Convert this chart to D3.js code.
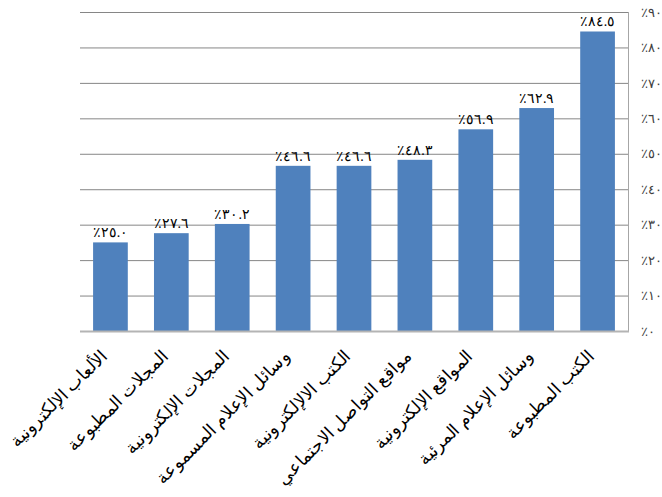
<!DOCTYPE html>
<html><head><meta charset="utf-8">
<script src="https://cdn.jsdelivr.net/npm/d3@7"></script>
<style>html,body{margin:0;padding:0;background:#fff;}svg{display:block;}</style>
</head><body>
<svg id="c" width="662" height="497"></svg>
<script>
const categories = ["الألعاب الإلكترونية","المجلات المطبوعة","المجلات الإلكترونية","وسائل الإعلام المسموعة","الكتب الالإلكترونية","مواقع التواصل الاجتماعي","المواقع الإلكترونية","وسائل الإعلام المرئية","الكتب المطبوعة"];
const values = [25.0, 27.6, 30.2, 46.6, 46.6, 48.3, 56.9, 62.9, 84.5];
const tickValues = [0,10,20,30,40,50,60,70,80,90];

const ar = s => String(s).replace(/[0-9]/g, d => "٠١٢٣٤٥٦٧٨٩"[+d]);
const svg = d3.select("#c");
const m = {l:80, r:628, t:12, b:331};
const x = d3.scaleBand().domain(categories).range([m.l, m.r]).paddingInner(0.43).paddingOuter(0.215);
const y = d3.scaleLinear().domain([0,90]).range([m.b, m.t]);
const font = "'Liberation Serif','DejaVu Serif','Times New Roman',serif";

// gridlines
svg.append("g").selectAll("line").data(tickValues.filter(t=>t>0)).join("line")
  .attr("x1", m.l).attr("x2", m.r).attr("y1", d=>y(d)+0.5).attr("y2", d=>y(d)+0.5)
  .attr("stroke", "#868686").attr("stroke-width", 1);
// right border
svg.append("line").attr("x1", m.r+0.5).attr("x2", m.r+0.5).attr("y1", m.t).attr("y2", m.b)
  .attr("stroke", "#a6a6a6").attr("stroke-width", 1);

// bars
svg.append("g").selectAll("rect").data(values).join("rect")
  .attr("x", (d,i)=>x(categories[i])).attr("width", x.bandwidth())
  .attr("y", d=>y(d)).attr("height", d=>y(0)-y(d))
  .attr("fill", "#4f81bd");

// baseline axis
svg.append("line").attr("x1", m.l).attr("x2", m.r+1).attr("y1", m.b+0.5).attr("y2", m.b+0.5)
  .attr("stroke", "#b4b4b4").attr("stroke-width", 2);

// value labels
svg.append("g").selectAll("text").data(values).join("text")
  .attr("x", (d,i)=>x(categories[i]) + x.bandwidth()/2)
  .attr("y", d=>y(d)-5)
  .attr("text-anchor", "middle")
  .attr("font-family", font).attr("font-size", 14).attr("fill", "#000")
  .style("direction","ltr").style("unicode-bidi","bidi-override")
  .text(d=>"٪" + ar(d.toFixed(1)));

// right axis labels
const yAxis = d3.axisRight(y).tickValues(tickValues).tickSize(0).tickPadding(13)
  .tickFormat(d=>"٪" + ar(d));
const ga = svg.append("g").attr("transform", `translate(${m.r},0)`).call(yAxis);
ga.select(".domain").remove();
ga.selectAll("text").attr("font-family", font).attr("font-size", 13).attr("fill", "#404040")
  .style("direction","ltr").style("unicode-bidi","bidi-override");

// category labels
svg.append("g").selectAll("text").data(categories).join("text")
  .attr("transform", d=>`translate(${x(d)+x.bandwidth()/2-2},357) rotate(-45)`)
  .attr("text-anchor", "end")
  .attr("font-family", font).attr("font-size", 17.5).attr("fill", "#000")
  .text(d=>d);
</script>
</body></html>
